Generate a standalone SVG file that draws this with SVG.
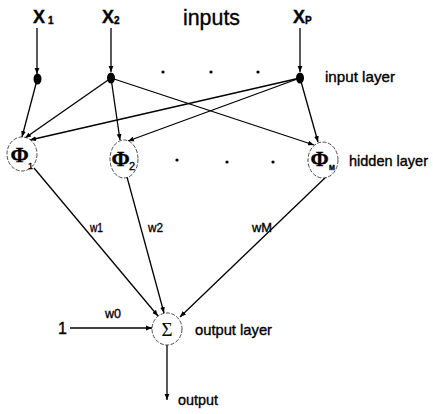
<svg xmlns="http://www.w3.org/2000/svg" width="433" height="414" viewBox="0 0 433 414">
<defs>
<marker id="ah" viewBox="0 0 10 10" refX="10" refY="5" markerWidth="6" markerHeight="6" orient="auto" markerUnits="userSpaceOnUse">
<path d="M0,1 L10,5 L0,9 z" fill="#000"/>
</marker>
<style>
.t{font-family:"Liberation Sans",Arial,sans-serif;fill:#000;stroke:#000;stroke-width:0.35}
.e{stroke:#000;stroke-width:1.3;fill:none}
.n{fill:#fff;stroke:#222;stroke-width:0.8;stroke-dasharray:4 1.5}
.d{fill:#000}
.ph{font-family:"Liberation Serif","Times New Roman",serif;font-weight:bold;font-size:22px}
</style>
</defs>
<rect width="433" height="414" fill="#fff"/>
<g id="connectors">
<line class="e" x1="37" y1="28" x2="37" y2="74" marker-end="url(#ah)"/>
<line class="e" x1="111" y1="28" x2="111" y2="72" marker-end="url(#ah)"/>
<line class="e" x1="300" y1="28" x2="300" y2="72" marker-end="url(#ah)"/>
<line class="e" x1="37" y1="80" x2="22" y2="137" marker-end="url(#ah)"/>
<line class="e" x1="111" y1="78" x2="25" y2="138" marker-end="url(#ah)"/>
<line class="e" x1="300" y1="78" x2="30" y2="140" marker-end="url(#ah)"/>
<line class="e" x1="111" y1="78" x2="120" y2="140" marker-end="url(#ah)"/>
<line class="e" x1="300" y1="78" x2="128" y2="141" marker-end="url(#ah)"/>
<line class="e" x1="111" y1="78" x2="314" y2="145" marker-end="url(#ah)"/>
<line class="e" x1="300" y1="78" x2="318" y2="142" marker-end="url(#ah)"/>
<line class="e" x1="34" y1="168" x2="158" y2="316" marker-end="url(#ah)"/>
<line class="e" x1="127" y1="177" x2="164" y2="313" marker-end="url(#ah)"/>
<line class="e" x1="328" y1="175" x2="180" y2="317" marker-end="url(#ah)"/>
<line class="e" x1="70" y1="328" x2="152" y2="328" marker-end="url(#ah)"/>
<line class="e" x1="167" y1="345" x2="167" y2="400" marker-end="url(#ah)"/>
</g>
<g id="inputs-label">
<text class="t" x="33" y="23" font-size="18" font-weight="bold">X<tspan font-size="10" dx="3" dy="1">1</tspan></text>
<text class="t" x="102" y="23" font-size="18" font-weight="bold">X<tspan font-size="10" dy="1">2</tspan></text>
<text class="t" x="293" y="23" font-size="18" font-weight="bold">X<tspan font-size="10" dy="1">P</tspan></text>
<text class="t" x="183" y="25" font-size="22" textLength="57" lengthAdjust="spacingAndGlyphs">inputs</text>
</g>
<g id="x1"><ellipse class="d" cx="37.5" cy="79" rx="4" ry="5.5"/></g>
<g id="x2"><ellipse class="d" cx="111" cy="78" rx="4" ry="5.5"/></g>
<g id="xp"><ellipse class="d" cx="300" cy="78" rx="4" ry="5.5"/></g>
<g id="input-dots">
<circle class="d" cx="163" cy="72" r="1.6"/>
<circle class="d" cx="211" cy="72" r="1.6"/>
<circle class="d" cx="258" cy="72" r="1.6"/>
<text class="t" x="325" y="82" font-size="15" textLength="70" lengthAdjust="spacingAndGlyphs">input  layer</text>
</g>
<g id="phi1">
<ellipse class="n" cx="22" cy="154" rx="15" ry="17"/>
<text class="t ph" x="10.5" y="162">Φ</text>
<text class="t" x="28" y="169" font-size="9">1</text>
</g>
<g id="phi2">
<ellipse class="n" cx="124" cy="159" rx="14" ry="19"/>
<text class="t ph" x="111.5" y="166">Φ</text>
<text class="t" x="129" y="170" font-size="11">2</text>
</g>
<g id="phiM">
<ellipse class="n" cx="323" cy="160" rx="15" ry="18"/>
<text class="t ph" x="310.5" y="166">Φ</text>
<text class="t" x="329" y="170" font-size="7" font-weight="bold">M</text>
</g>
<g id="hidden-dots">
<circle class="d" cx="177" cy="160" r="1.6"/>
<circle class="d" cx="227" cy="162" r="1.6"/>
<circle class="d" cx="273" cy="162" r="1.6"/>
<text class="t" x="349" y="166" font-size="14.5">hidden layer</text>
</g>
<g id="weights">
<text class="t" x="90" y="232" font-size="13" textLength="13" lengthAdjust="spacingAndGlyphs">w1</text>
<text class="t" x="148" y="232" font-size="13" textLength="15" lengthAdjust="spacingAndGlyphs">w2</text>
<text class="t" x="252" y="232" font-size="13" textLength="20" lengthAdjust="spacingAndGlyphs">wM</text>
<text class="t" x="105" y="318" font-size="13" textLength="16" lengthAdjust="spacingAndGlyphs">w0</text>
</g>
<g id="sigma">
<ellipse class="n" cx="167" cy="329" rx="15" ry="16"/>
<text x="167" y="336" font-size="19" text-anchor="middle" font-family="Liberation Serif,serif">Σ</text>
<text class="t" x="195" y="335" font-size="15" textLength="77" lengthAdjust="spacingAndGlyphs">output  layer</text>
</g>
<g id="bias"><text class="t" x="58" y="334" font-size="16">1</text></g>
<g id="output"><text class="t" x="178" y="405" font-size="15" textLength="40" lengthAdjust="spacingAndGlyphs">output</text></g>
</svg>
